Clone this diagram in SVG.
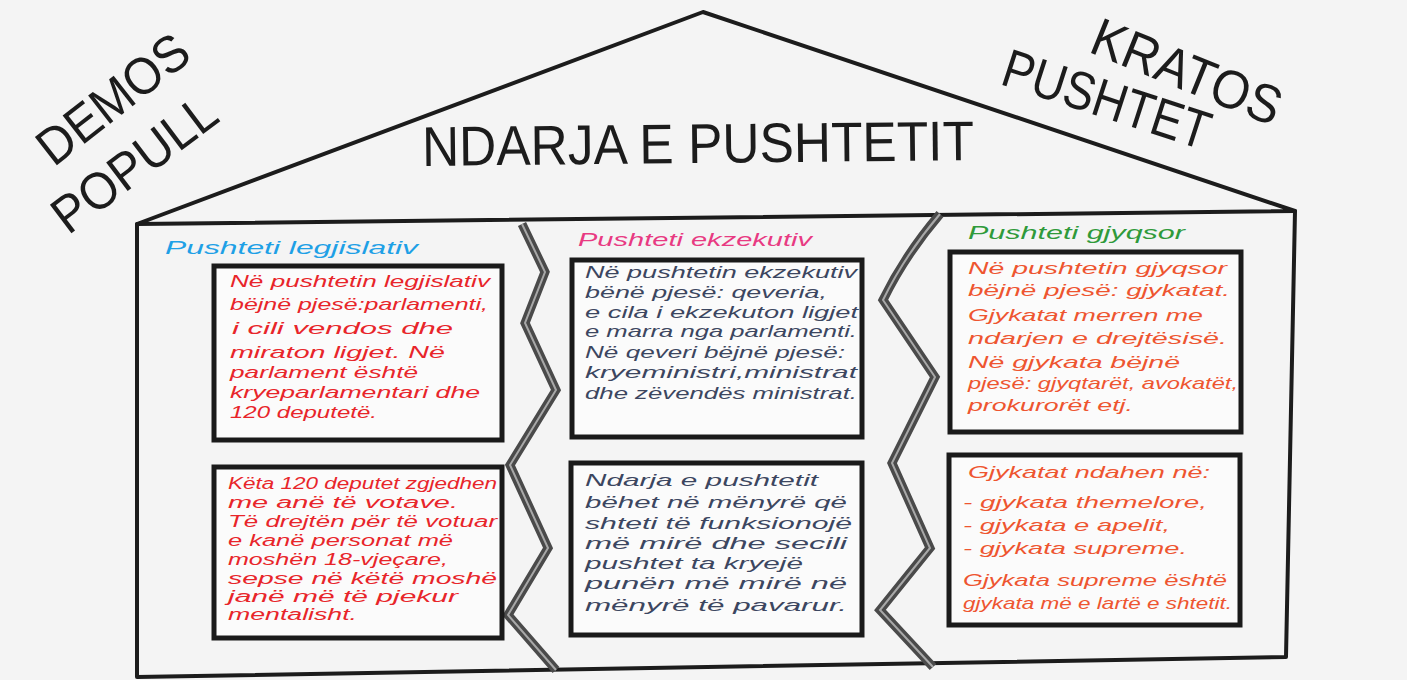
<svg xmlns="http://www.w3.org/2000/svg" width="1407" height="680" viewBox="0 0 1407 680">
<defs>
<style>
.bg{fill:#f4f4f4}
.house{fill:none;stroke:#1c1c1c;stroke-width:4;stroke-linejoin:round;stroke-linecap:round}
.box{fill:#fbfbfb;stroke:#1a1a1a;stroke-width:5}
.div-o{fill:none;stroke:#4a4a4a;stroke-width:9;stroke-linejoin:miter;stroke-linecap:butt}
.div-i{fill:none;stroke:#a8a8a8;stroke-width:2}
.big{font-family:"Liberation Sans",Arial,sans-serif;fill:#1c1c1c}
.hd{font-family:"Liberation Sans",Arial,sans-serif;font-style:italic;font-size:19px}
.t{font-family:"Liberation Sans",Arial,sans-serif;font-style:italic;font-size:17px}
.s{font-size:16px}
.red{fill:#e8252a}
.navy{fill:#3c4660}
.org{fill:#ee5530}
</style>
</defs>
<rect class="bg" x="0" y="0" width="1407" height="680"/>

<g id="house">
<path class="house" d="M137,224 L703,12 L1295,211 Z"/>
<path class="house" d="M137,224 L137,677 L1286,657 L1295,211"/>
</g>

<g id="title">
<text class="big" x="422" y="163" font-size="56" textLength="552" lengthAdjust="spacingAndGlyphs" transform="rotate(-0.6 698 150)">NDARJA E PUSHTETIT</text>
</g>
<g id="demos">
<text class="big" font-size="52" text-anchor="middle" x="0" y="0" textLength="178" lengthAdjust="spacingAndGlyphs" transform="translate(124 113) rotate(-38)">DEMOS</text>
<text class="big" font-size="52" text-anchor="middle" x="0" y="0" textLength="192" lengthAdjust="spacingAndGlyphs" transform="translate(145 178) rotate(-37)">POPULL</text>
</g>
<g id="kratos">
<text class="big" font-size="54" text-anchor="middle" x="0" y="0" textLength="200" lengthAdjust="spacingAndGlyphs" transform="translate(1180 89) rotate(22)">KRATOS</text>
<text class="big" font-size="54" text-anchor="middle" x="0" y="0" textLength="215" lengthAdjust="spacingAndGlyphs" transform="translate(1101 117) rotate(18)">PUSHTET</text>
</g>

<g id="dividers">
<polyline class="div-o" points="522,224 545,272 525,323 556,390 510,465 548,548 508,615 556,670"/>
<polyline class="div-i" points="522,224 545,272 525,323 556,390 510,465 548,548 508,615 556,670"/>
<path class="div-o" d="M940,214 Q905,255 883,300 L935,377 L892,463 L930,548 L880,610 L933,667"/>
<path class="div-i" d="M940,214 Q905,255 883,300 L935,377 L892,463 L930,548 L880,610 L933,667"/>
</g>

<g id="legjislativ">
<text class="hd" x="165" y="254" fill="#1ea0e6" textLength="253" lengthAdjust="spacingAndGlyphs">Pushteti legjislativ</text>
<g id="box-leg-1">
<rect class="box" x="214" y="266" width="288" height="174"/>
<text class="t red" x="230" y="287" textLength="260" lengthAdjust="spacingAndGlyphs">Në pushtetin legjislativ</text>
<text class="t red" x="230" y="310" textLength="258" lengthAdjust="spacingAndGlyphs">bëjnë pjesë:parlamenti,</text>
<text class="t red" x="232" y="334" textLength="221" lengthAdjust="spacingAndGlyphs">i cili vendos dhe</text>
<text class="t red" x="230" y="358" textLength="215" lengthAdjust="spacingAndGlyphs">miraton ligjet. Në</text>
<text class="t red" x="230" y="378" textLength="188" lengthAdjust="spacingAndGlyphs">parlament është</text>
<text class="t red" x="230" y="398" textLength="250" lengthAdjust="spacingAndGlyphs">kryeparlamentari dhe</text>
<text class="t red" x="230" y="418" textLength="147" lengthAdjust="spacingAndGlyphs">120 deputetë.</text>
</g>
<g id="box-leg-2">
<rect class="box" x="214" y="467" width="288" height="171"/>
<text class="t s red" x="228" y="489" textLength="269" lengthAdjust="spacingAndGlyphs">Këta 120 deputet zgjedhen</text>
<text class="t s red" x="228" y="508" textLength="230" lengthAdjust="spacingAndGlyphs">me anë të votave.</text>
<text class="t s red" x="228" y="527" textLength="269" lengthAdjust="spacingAndGlyphs">Të drejtën për të votuar</text>
<text class="t s red" x="228" y="546" textLength="225" lengthAdjust="spacingAndGlyphs">e kanë personat më</text>
<text class="t s red" x="228" y="565" textLength="220" lengthAdjust="spacingAndGlyphs">moshën 18-vjeçare,</text>
<text class="t s red" x="228" y="584" textLength="269" lengthAdjust="spacingAndGlyphs">sepse në këtë moshë</text>
<text class="t s red" x="228" y="602" textLength="230" lengthAdjust="spacingAndGlyphs">janë më të pjekur</text>
<text class="t s red" x="228" y="620" textLength="129" lengthAdjust="spacingAndGlyphs">mentalisht.</text>
</g>
</g>

<g id="ekzekutiv">
<text class="hd" x="578" y="246" fill="#e83a82" textLength="234" lengthAdjust="spacingAndGlyphs">Pushteti ekzekutiv</text>
<g id="box-ekz-1">
<rect class="box" x="572" y="260" width="290" height="177"/>
<text class="t navy" x="585" y="278" textLength="272" lengthAdjust="spacingAndGlyphs">Në pushtetin ekzekutiv</text>
<text class="t navy" x="585" y="298" textLength="242" lengthAdjust="spacingAndGlyphs">bënë pjesë: qeveria,</text>
<text class="t navy" x="585" y="318" textLength="273" lengthAdjust="spacingAndGlyphs">e cila i ekzekuton ligjet</text>
<text class="t navy" x="585" y="337" textLength="272" lengthAdjust="spacingAndGlyphs">e marra nga parlamenti.</text>
<text class="t navy" x="585" y="358" textLength="260" lengthAdjust="spacingAndGlyphs">Në qeveri bëjnë pjesë:</text>
<text class="t navy" x="585" y="378" textLength="272" lengthAdjust="spacingAndGlyphs">kryeministri,ministrat</text>
<text class="t navy" x="585" y="399" textLength="272" lengthAdjust="spacingAndGlyphs">dhe zëvendës ministrat.</text>
</g>
<g id="box-ekz-2">
<rect class="box" x="571" y="463" width="291" height="172"/>
<text class="t navy" x="585" y="486" textLength="233" lengthAdjust="spacingAndGlyphs">Ndarja e pushtetit</text>
<text class="t navy" x="585" y="508" textLength="262" lengthAdjust="spacingAndGlyphs">bëhet në mënyrë që</text>
<text class="t navy" x="585" y="529" textLength="267" lengthAdjust="spacingAndGlyphs">shteti të funksionojë</text>
<text class="t navy" x="585" y="549" textLength="262" lengthAdjust="spacingAndGlyphs">më mirë dhe secili</text>
<text class="t navy" x="585" y="569" textLength="218" lengthAdjust="spacingAndGlyphs">pushtet ta kryejë</text>
<text class="t navy" x="585" y="589" textLength="262" lengthAdjust="spacingAndGlyphs">punën më mirë në</text>
<text class="t navy" x="585" y="611" textLength="262" lengthAdjust="spacingAndGlyphs">mënyrë të pavarur.</text>
</g>
</g>

<g id="gjyqsor">
<text class="hd" x="968" y="239" fill="#2f9a3a" textLength="217" lengthAdjust="spacingAndGlyphs">Pushteti gjyqsor</text>
<g id="box-gjy-1">
<rect class="box" x="950" y="252" width="291" height="180"/>
<text class="t org" x="968" y="274" textLength="259" lengthAdjust="spacingAndGlyphs">Në pushtetin gjyqsor</text>
<text class="t org" x="968" y="296" textLength="262" lengthAdjust="spacingAndGlyphs">bëjnë pjesë: gjykatat.</text>
<text class="t org" x="968" y="321" textLength="235" lengthAdjust="spacingAndGlyphs">Gjykatat merren me</text>
<text class="t org" x="968" y="344" textLength="259" lengthAdjust="spacingAndGlyphs">ndarjen e drejtësisë.</text>
<text class="t org" x="968" y="368" textLength="212" lengthAdjust="spacingAndGlyphs">Në gjykata bëjnë</text>
<text class="t org" x="968" y="389" textLength="270" lengthAdjust="spacingAndGlyphs">pjesë: gjyqtarët, avokatët,</text>
<text class="t org" x="968" y="411" textLength="165" lengthAdjust="spacingAndGlyphs">prokurorët etj.</text>
</g>
<g id="box-gjy-2">
<rect class="box" x="949" y="455" width="291" height="170"/>
<text class="t org" x="968" y="478" textLength="242" lengthAdjust="spacingAndGlyphs">Gjykatat ndahen në:</text>
<text class="t org" x="963" y="508" textLength="244" lengthAdjust="spacingAndGlyphs">- gjykata themelore,</text>
<text class="t org" x="963" y="531" textLength="207" lengthAdjust="spacingAndGlyphs">- gjykata e apelit,</text>
<text class="t org" x="963" y="554" textLength="224" lengthAdjust="spacingAndGlyphs">- gjykata supreme.</text>
<text class="t org" x="963" y="586" textLength="264" lengthAdjust="spacingAndGlyphs">Gjykata supreme është</text>
<text class="t org" x="963" y="609" textLength="269" lengthAdjust="spacingAndGlyphs">gjykata më e lartë e shtetit.</text>
</g>
</g>
</svg>
